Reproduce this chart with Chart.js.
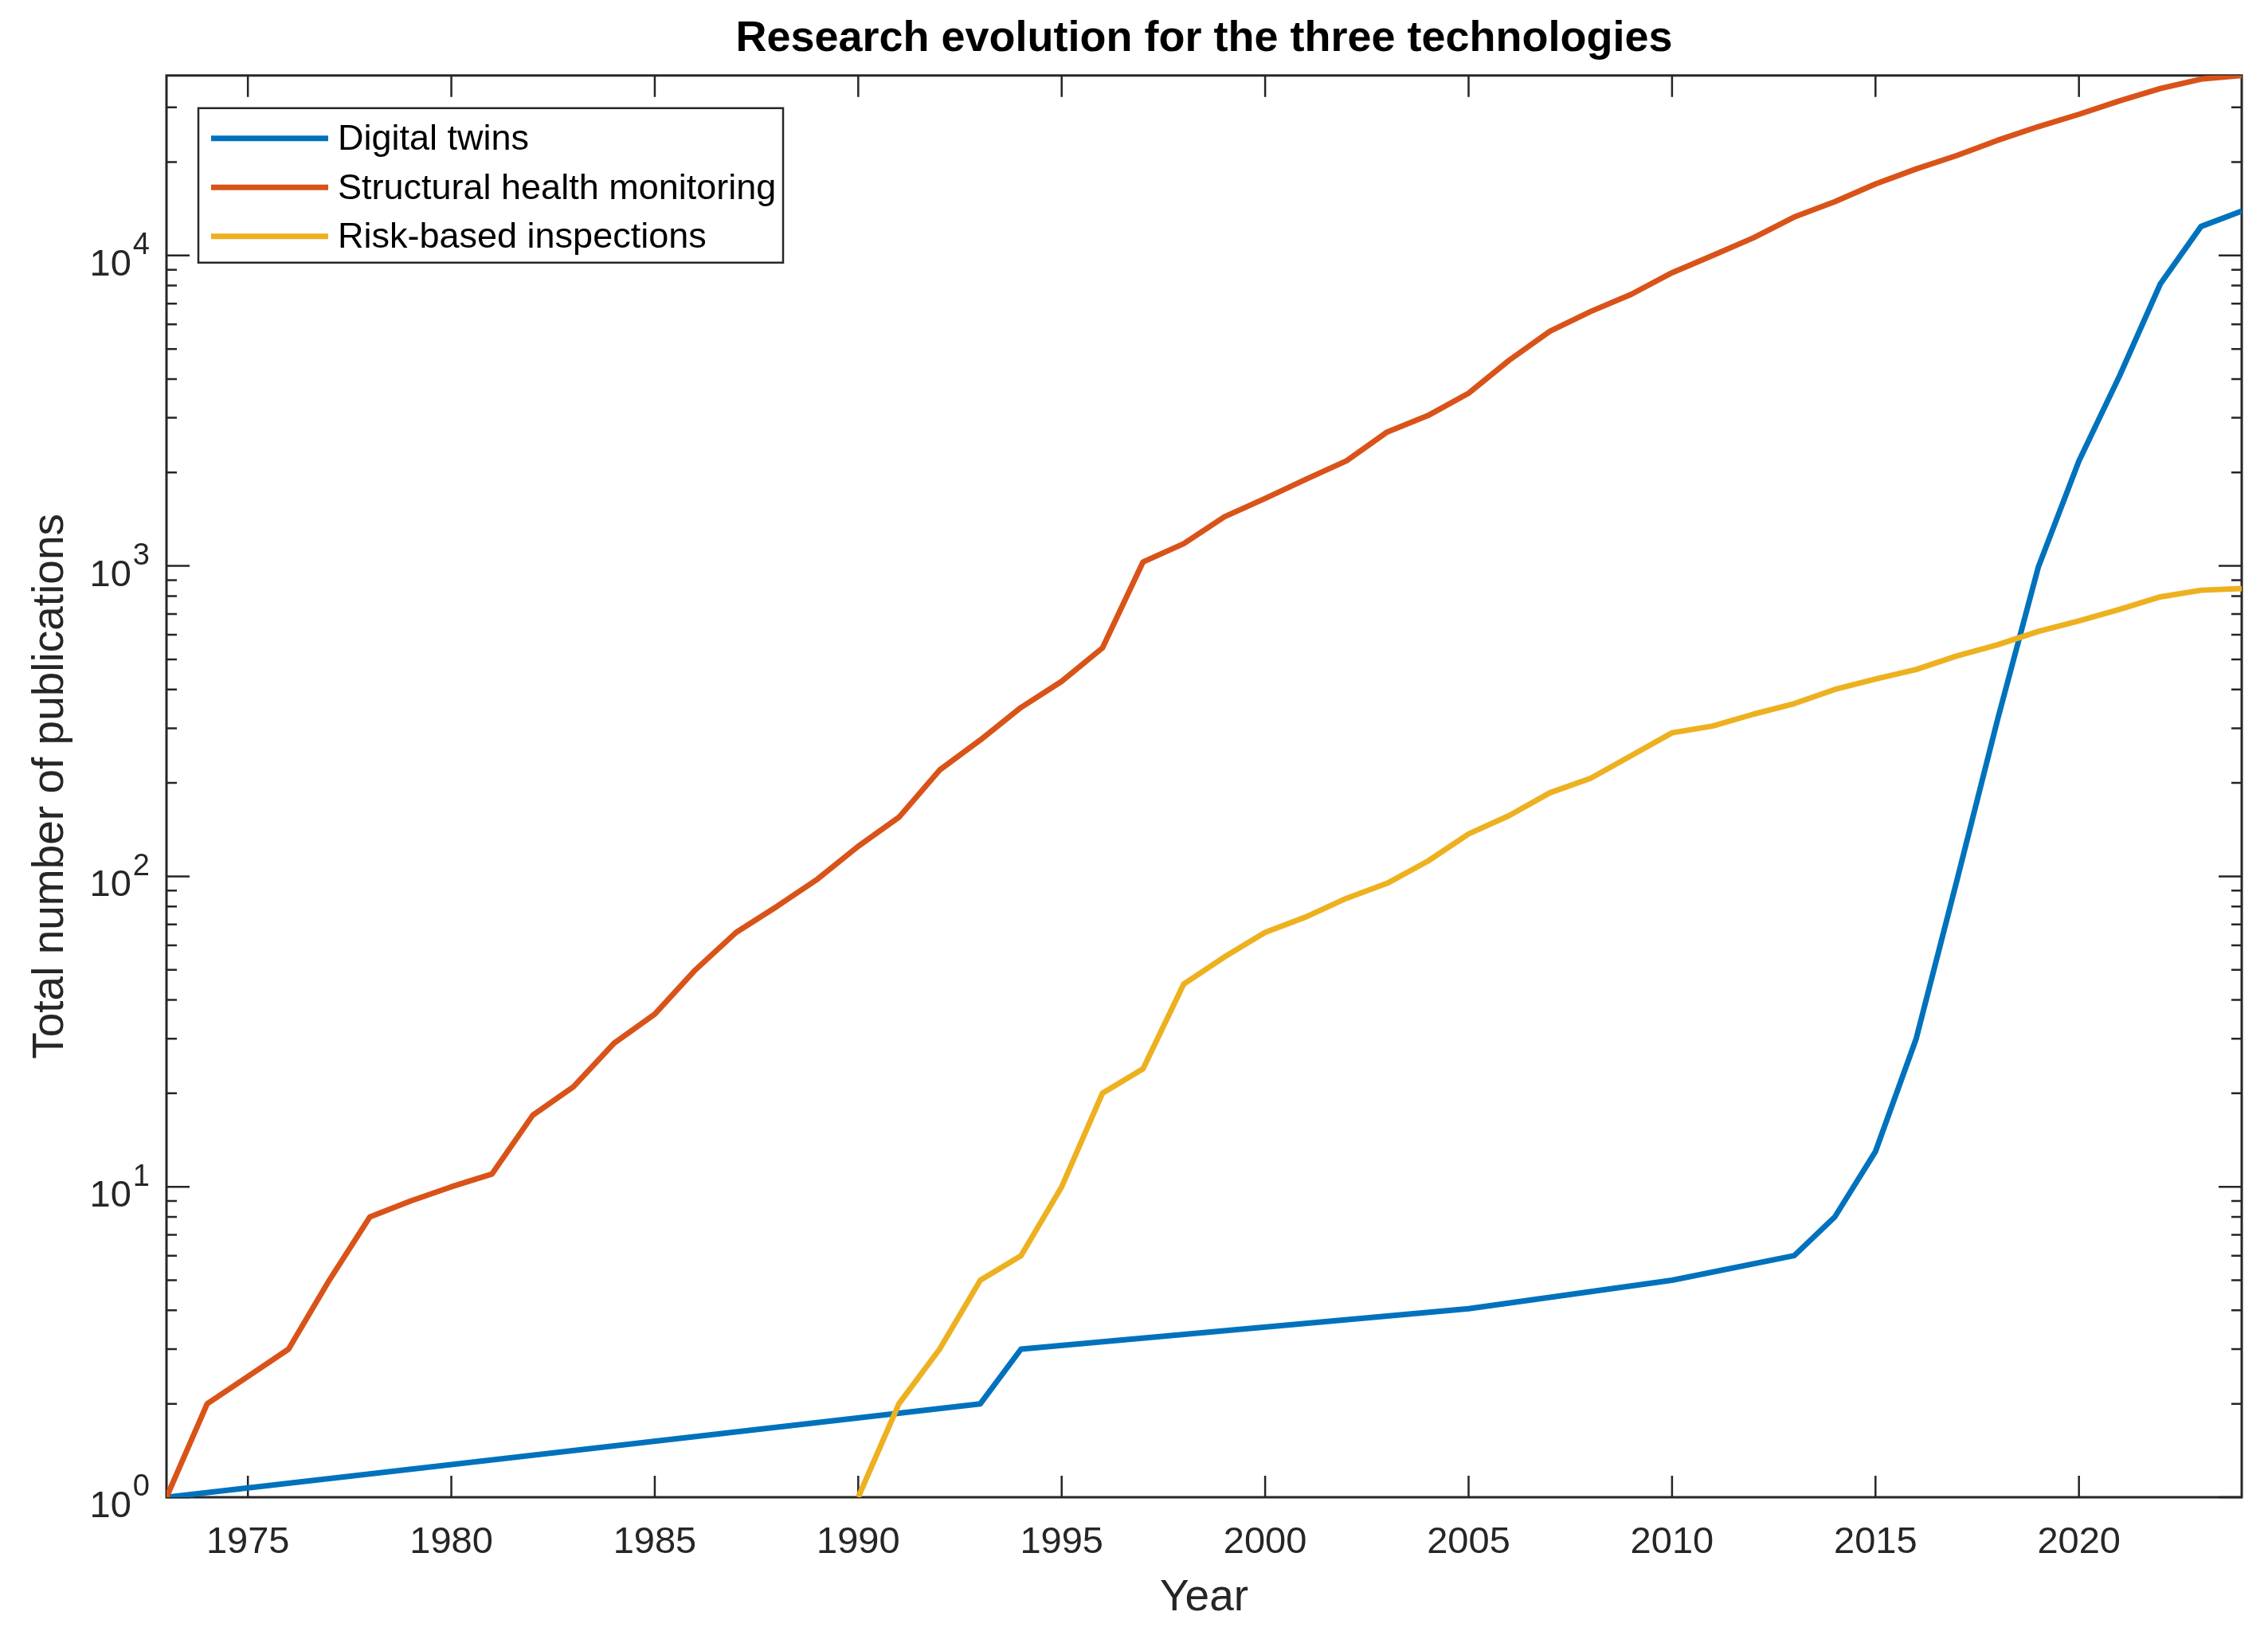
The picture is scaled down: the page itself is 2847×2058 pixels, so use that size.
<!DOCTYPE html>
<html>
<head>
<script src="https://cdn.jsdelivr.net/npm/chart.js@4.4.0/dist/chart.umd.min.js"></script>
<style>
  body { margin: 0; background: #fff; }
</style>
</head>
<body>
<canvas id="chart" width="2847" height="2058"></canvas>
<script>
// cumulative publications per year
const shmYears = [1973, 1974, 1975, 1976, 1977, 1978, 1979, 1980, 1981, 1982, 1983, 1984, 1985,
  1986, 1987, 1988, 1989, 1990, 1991, 1992, 1993, 1994, 1995, 1996, 1997, 1998, 1999, 2000,
  2001, 2002, 2003, 2004, 2005, 2006, 2007, 2008, 2009, 2010, 2011, 2012, 2013, 2014, 2015,
  2016, 2017, 2018, 2019, 2020, 2021, 2022, 2023, 2024];
const shm = [1, 2, 2.45, 3, 5, 8, 9, 10, 11, 17, 21, 29, 36,
  50, 66, 80, 98, 125, 155, 220, 275, 350, 425, 544, 1030, 1180, 1440, 1650,
  1900, 2180, 2700, 3050, 3600, 4600, 5700, 6600, 7500, 8800, 10000, 11400, 13300, 14900, 17000,
  19000, 21000, 23500, 26000, 28500, 31500, 34500, 37000, 38000];

const rbiYears = [1990, 1991, 1992, 1993, 1994, 1995, 1996, 1997, 1998, 1999, 2000, 2001, 2002,
  2003, 2004, 2005, 2006, 2007, 2008, 2009, 2010, 2011, 2012, 2013, 2014, 2015, 2016, 2017,
  2018, 2019, 2020, 2021, 2022, 2023, 2024];
const rbi = [1, 2, 3, 5, 6, 10, 20, 24, 45, 55, 66, 74, 85,
  95, 112, 137, 157, 186, 207, 245, 290, 305, 333, 360, 400, 432, 464, 513,
  557, 615, 665, 725, 795, 835, 845];

const dtYears = [1973, 1993, 1994, 2005, 2010, 2013, 2014, 2015, 2016, 2017, 2018, 2019, 2020,
  2021, 2022, 2023, 2024];
const dt = [1, 2, 3, 4.05, 5, 6, 8, 13, 30, 97, 320, 990, 2180,
  4100, 8100, 12400, 13900];

const xTicks = [1975, 1980, 1985, 1990, 1995, 2000, 2005, 2010, 2015, 2020];
const yTicks = [1, 10, 100, 1000, 10000];
const yTickExponents = ['0', '1', '2', '3', '4'];

const FONT = '"Liberation Sans", Arial, Helvetica, sans-serif';
const AXIS = '#262626';

const pts = (xs, ys) => xs.map((x, i) => ({ x, y: ys[i] }));

// MATLAB-like box with inward ticks, 10^n labels and legend
const boxPlugin = {
  id: 'box',
  beforeDatasetsDraw(chart) {
    const { ctx, chartArea: a, scales: { x, y } } = chart;
    ctx.save();
    ctx.strokeStyle = AXIS;
    ctx.lineWidth = 2.5;
    ctx.beginPath();
    xTicks.forEach((v) => {
      const px = x.getPixelForValue(v);
      ctx.moveTo(px, a.bottom);
      ctx.lineTo(px, a.bottom - 27);
      ctx.moveTo(px, a.top);
      ctx.lineTo(px, a.top + 27);
    });
    for (let e = 0; e <= 4; e++) {
      for (let m = 1; m <= 9; m++) {
        const v = m * Math.pow(10, e);
        if (v < y.min || v > y.max) continue;
        const py = y.getPixelForValue(v);
        const len = m === 1 ? 29 : 13;
        ctx.moveTo(a.left, py);
        ctx.lineTo(a.left + len, py);
        ctx.moveTo(a.right, py);
        ctx.lineTo(a.right - len, py);
      }
    }
    ctx.stroke();
    ctx.lineWidth = 3;
    ctx.strokeRect(a.left, a.top, a.right - a.left, a.bottom - a.top);

    // y tick labels as 10 with raised exponent
    ctx.fillStyle = AXIS;
    ctx.textAlign = 'right';
    ctx.textBaseline = 'middle';
    yTicks.forEach((v, i) => {
      const py = y.getPixelForValue(v);
      const right = a.left - 21;
      ctx.font = '38px ' + FONT;
      const ew = ctx.measureText(yTickExponents[i]).width;
      ctx.fillText(yTickExponents[i], right, py - 12);
      ctx.font = '47px ' + FONT;
      ctx.fillText('10', right - ew - 2, py + 12);
    });
    ctx.restore();
  },
  afterDatasetsDraw(chart) {
    const { ctx, chartArea: a } = chart;
    const bx = a.left + 40, by = a.top + 41, bw = 734, bh = 194;
    ctx.save();
    ctx.fillStyle = '#fff';
    ctx.fillRect(bx, by, bw, bh);
    ctx.strokeStyle = AXIS;
    ctx.lineWidth = 2.5;
    ctx.strokeRect(bx, by, bw, bh);
    ctx.font = '45px ' + FONT;
    ctx.textBaseline = 'middle';
    chart.data.datasets.forEach((ds, i) => {
      const ry = by + 38 + i * 61.5;
      ctx.strokeStyle = ds.borderColor;
      ctx.lineWidth = 7;
      ctx.beginPath();
      ctx.moveTo(bx + 16, ry);
      ctx.lineTo(bx + 163, ry);
      ctx.stroke();
      ctx.fillStyle = '#000';
      ctx.fillText(ds.label, bx + 175, ry + 2);
    });
    ctx.restore();
  }
};

new Chart(document.getElementById('chart'), {
  type: 'line',
  data: {
    datasets: [
      { label: 'Digital twins', data: pts(dtYears, dt), borderColor: '#0072BD', order: 2 },
      { label: 'Structural health monitoring', data: pts(shmYears, shm), borderColor: '#D95319', order: 1 },
      { label: 'Risk-based inspections', data: pts(rbiYears, rbi), borderColor: '#EDB120', order: 0 }
    ]
  },
  options: {
    responsive: false,
    devicePixelRatio: 1,
    animation: false,
    datasets: {
      line: { borderWidth: 7, pointRadius: 0, tension: 0, fill: false, borderJoinStyle: 'round' }
    },
    layout: { padding: { left: 0, right: 33, top: 0, bottom: 0 } },
    plugins: {
      legend: { display: false },
      tooltip: { enabled: false },
      title: {
        display: true,
        text: 'Research evolution for the three technologies',
        fullSize: false,
        color: '#000',
        font: { family: FONT, size: 54, weight: 'bold' },
        padding: { top: 17, bottom: 13 }
      }
    },
    scales: {
      x: {
        type: 'linear',
        min: 1973,
        max: 2024,
        afterBuildTicks: (s) => { s.ticks = xTicks.map((v) => ({ value: v })); },
        afterFit: (s) => { s.height = 178; },
        grid: { display: false, drawTicks: false, tickLength: 0 },
        border: { display: false },
        ticks: {
          padding: 29,
          color: AXIS,
          maxRotation: 0,
          font: { family: FONT, size: 47 },
          callback: (v) => String(v)
        },
        title: {
          display: true,
          text: 'Year',
          color: AXIS,
          font: { family: FONT, size: 55 },
          padding: { top: 0, bottom: 18 }
        }
      },
      y: {
        type: 'logarithmic',
        min: 1,
        max: Math.max(...shm),
        afterBuildTicks: (s) => { s.ticks = yTicks.map((v) => ({ value: v })); },
        afterFit: (s) => { s.width = 209; },
        grid: { display: false, drawTicks: false, tickLength: 0 },
        border: { display: false },
        ticks: { display: false },
        title: {
          display: true,
          text: 'Total number of publications',
          color: AXIS,
          font: { family: FONT, size: 55 },
          padding: { top: 31, bottom: 0 }
        }
      }
    }
  },
  plugins: [boxPlugin]
});
</script>
</body>
</html>
